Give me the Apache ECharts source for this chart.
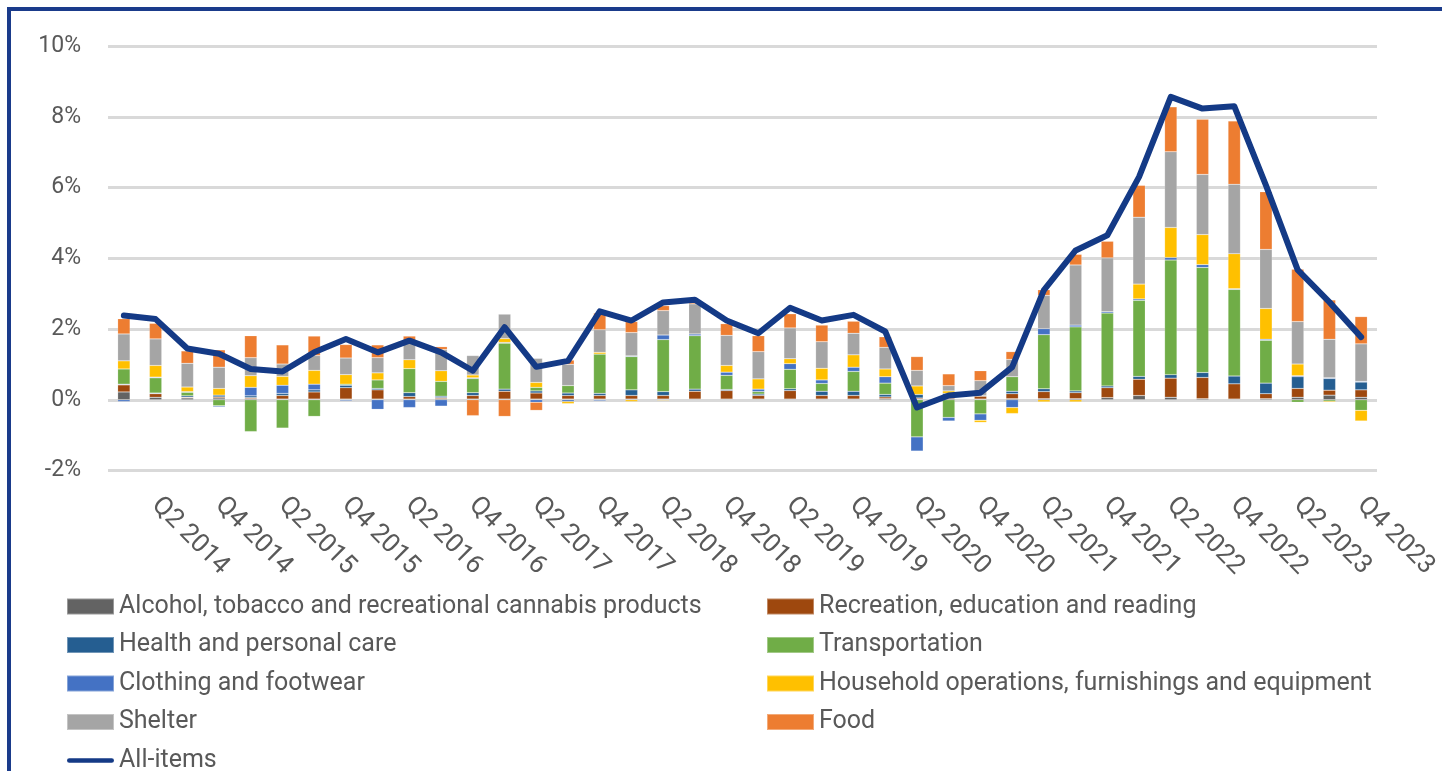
<!DOCTYPE html>
<html>
<head>
<meta charset="utf-8">
<script src="https://cdn.jsdelivr.net/npm/echarts@6/dist/echarts.min.js"></script>
<style>
  html, body { margin: 0; padding: 0; background: #fff; }
  #chart { width: 1442px; height: 771px; }
</style>
</head>
<body>
<div id="chart"></div>
<script>
const quarters = [
  'Q1 2014', 'Q2 2014', 'Q3 2014', 'Q4 2014', 'Q1 2015', 'Q2 2015', 'Q3 2015', 'Q4 2015',
  'Q1 2016', 'Q2 2016', 'Q3 2016', 'Q4 2016', 'Q1 2017', 'Q2 2017', 'Q3 2017', 'Q4 2017',
  'Q1 2018', 'Q2 2018', 'Q3 2018', 'Q4 2018', 'Q1 2019', 'Q2 2019', 'Q3 2019', 'Q4 2019',
  'Q1 2020', 'Q2 2020', 'Q3 2020', 'Q4 2020', 'Q1 2021', 'Q2 2021', 'Q3 2021', 'Q4 2021',
  'Q1 2022', 'Q2 2022', 'Q3 2022', 'Q4 2022', 'Q1 2023', 'Q2 2023', 'Q3 2023', 'Q4 2023'
]

// contributions, percentage points
const alcohol = [0.22, 0.07, 0.05, 0.05, 0.03, 0.02, 0.02, 0.02, 0.02, 0.02, 0.03, 0.02, 0.02, 0.02, 0.02, 0.02,
  0.02, 0.02, 0.02, 0.02, 0.02, 0.02, 0.02, 0.02, 0.03, 0.02, 0.03, 0.02, 0.03, 0.03, 0.03, 0.06,
  0.12, 0.07, 0.03, 0.02, 0.03, 0.07, 0.13, 0.07]
const recreation = [0.2, 0.1, 0.02, 0.03, 0.03, 0.1, 0.2, 0.32, 0.26, 0.07, 0.03, 0.1, 0.22, 0.17, 0.1, 0.1,
  0.1, 0.1, 0.22, 0.24, 0.1, 0.24, 0.1, 0.1, 0.05, 0.03, 0.05, 0.08, 0.14, 0.2, 0.17, 0.28,
  0.46, 0.54, 0.6, 0.43, 0.14, 0.25, 0.14, 0.21]
const health = [0.02, 0.02, 0.04, 0.05, 0.05, 0.06, 0.06, 0.07, 0.04, 0.11, 0.04, 0.08, 0.06, 0.06, 0.07, 0.06,
  0.16, 0.11, 0.06, 0.03, 0.04, 0.05, 0.12, 0.12, 0.07, 0.1, 0.1, 0.02, 0.07, 0.08, 0.05, 0.05,
  0.08, 0.1, 0.14, 0.22, 0.3, 0.33, 0.33, 0.22]
const transportation = [0.43, 0.43, 0.1, -0.17, -0.9, -0.8, -0.47, 0.03, 0.24, 0.68, 0.42, 0.4, 1.3, 0.1, 0.21, 1.11,
  0.94, 1.47, 1.51, 0.4, 0.07, 0.55, 0.22, 0.56, 0.32, -1.05, -0.5, -0.4, 0.41, 1.53, 1.81, 2.06,
  2.15, 3.24, 2.97, 2.45, 1.21, -0.07, -0.04, -0.3]
const clothing = [-0.05, 0.02, 0.02, -0.03, 0.24, 0.23, 0.16, -0.03, -0.27, -0.22, -0.18, 0.02, 0.02, -0.07, -0.05, -0.03,
  0.02, 0.13, 0.05, 0.09, 0.07, 0.16, 0.1, 0.12, 0.18, -0.4, -0.1, -0.18, -0.22, 0.17, 0.05, 0.04,
  0.04, 0.07, 0.08, 0.02, 0.03, 0.03, 0.02, 0.02]
const household = [0.23, 0.33, 0.13, 0.19, 0.33, 0.25, 0.39, 0.27, 0.2, 0.25, 0.3, 0.08, 0.11, 0.14, -0.06, 0.05,
  -0.05, -0.02, 0, 0.19, 0.29, 0.14, 0.33, 0.35, 0.22, 0.24, 0.07, -0.06, -0.17, -0.06, -0.06, 0,
  0.42, 0.85, 0.85, 0.99, 0.87, 0.33, -0.03, -0.3]
const shelter = [0.76, 0.75, 0.67, 0.6, 0.51, 0.35, 0.42, 0.47, 0.43, 0.48, 0.6, 0.55, 0.69, 0.68, 0.6, 0.64,
  0.66, 0.69, 0.85, 0.85, 0.77, 0.87, 0.75, 0.61, 0.61, 0.44, 0.15, 0.42, 0.49, 0.94, 1.7, 1.52,
  1.89, 2.14, 1.7, 1.96, 1.67, 1.2, 1.09, 1.06]
const food = [0.43, 0.44, 0.35, 0.49, 0.62, 0.54, 0.55, 0.38, 0.36, 0.19, 0.08, -0.45, -0.47, -0.23, 0.12, 0.47,
  0.31, 0.14, 0.05, 0.33, 0.45, 0.4, 0.47, 0.34, 0.3, 0.39, 0.33, 0.28, 0.22, 0.16, 0.3, 0.47,
  0.9, 1.27, 1.56, 1.79, 1.63, 1.48, 1.11, 0.77]
const allItems = [2.38, 2.28, 1.45, 1.3, 0.87, 0.8, 1.34, 1.72, 1.34, 1.67, 1.34, 0.82, 2.05, 0.93, 1.1, 2.5,
  2.24, 2.75, 2.83, 2.24, 1.88, 2.6, 2.24, 2.4, 1.93, -0.22, 0.12, 0.2, 0.92, 3.1, 4.22, 4.65,
  6.3, 8.56, 8.23, 8.3, 6.06, 3.67, 2.76, 1.77]

const yTicks = [-2, 0, 2, 4, 6, 8, 10]

const FONT = 'Roboto, "Noto Sans", sans-serif'
const TEXT = '#595959'

const bars = [
  { name: 'Alcohol, tobacco and recreational cannabis products', data: alcohol, color: '#636363' },
  { name: 'Recreation, education and reading', data: recreation, color: '#9e480e' },
  { name: 'Health and personal care', data: health, color: '#255e91' },
  { name: 'Transportation', data: transportation, color: '#70ad47' },
  { name: 'Clothing and footwear', data: clothing, color: '#4472c4' },
  { name: 'Household operations, furnishings and equipment', data: household, color: '#ffc000' },
  { name: 'Shelter', data: shelter, color: '#a5a5a5' },
  { name: 'Food', data: food, color: '#ed7d31' }
]

const chart = echarts.init(document.getElementById('chart'))

const legendBase = {
  orient: 'vertical',
  top: 594,
  height: 200,
  padding: 0,
  itemWidth: 47,
  itemHeight: 16,
  itemGap: 13.5,
  icon: 'rect',
  textStyle: { color: TEXT, fontSize: 25, fontFamily: FONT, lineHeight: 24 }
}

const option = {
  backgroundColor: '#fff',
  animation: false,
  grid: { left: 108, right: 65, top: 46, bottom: 300.5 },
  legend: [
    Object.assign({}, legendBase, {
      left: 66,
      data: [bars[0].name, bars[2].name, bars[4].name, bars[6].name,
        { name: 'All-items', icon: 'path://M5,0H95A5,5 0 0 1 95,10H5A5,5 0 0 1 5,0Z' }]
    }),
    Object.assign({}, legendBase, {
      left: 766,
      data: [bars[1].name, bars[3].name, bars[5].name, bars[7].name]
    })
  ],
  xAxis: {
    type: 'category',
    data: quarters,
    axisLine: { show: false },
    axisTick: { show: false },
    axisLabel: {
      rotate: -45,
      interval: (i) => i % 2 === 1,
      margin: 31,
      color: TEXT,
      fontSize: 26,
      fontFamily: FONT
    }
  },
  yAxis: {
    type: 'value',
    min: yTicks[0],
    max: yTicks[yTicks.length - 1],
    interval: 2,
    axisLabel: {
      formatter: '{value}%',
      color: TEXT,
      fontSize: 23,
      fontFamily: FONT,
      margin: 27
    },
    splitLine: { lineStyle: { color: '#d9d9d9', width: 3 } }
  },
  series: [
    ...bars.map(b => ({
      name: b.name,
      type: 'bar',
      stack: 'cpi',
      barWidth: '39%',
      data: b.data,
      itemStyle: { color: b.color, borderColor: 'rgba(255,255,255,0.35)', borderWidth: 0.5 }
    })),
    {
      name: 'All-items',
      type: 'line',
      data: allItems,
      symbol: 'none',
      z: 5,
      itemStyle: { color: '#143a86' },
      lineStyle: { color: '#143a86', width: 6, join: 'round', cap: 'round' }
    }
  ],
  graphic: [
    { type: 'rect', shape: { x: 7, y: 7, width: 1435, height: 4 }, style: { fill: '#1a3b8b' } },
    { type: 'rect', shape: { x: 7, y: 7, width: 4, height: 764 }, style: { fill: '#1a3b8b' } }
  ]
}

chart.setOption(option)
</script>
</body>
</html>
